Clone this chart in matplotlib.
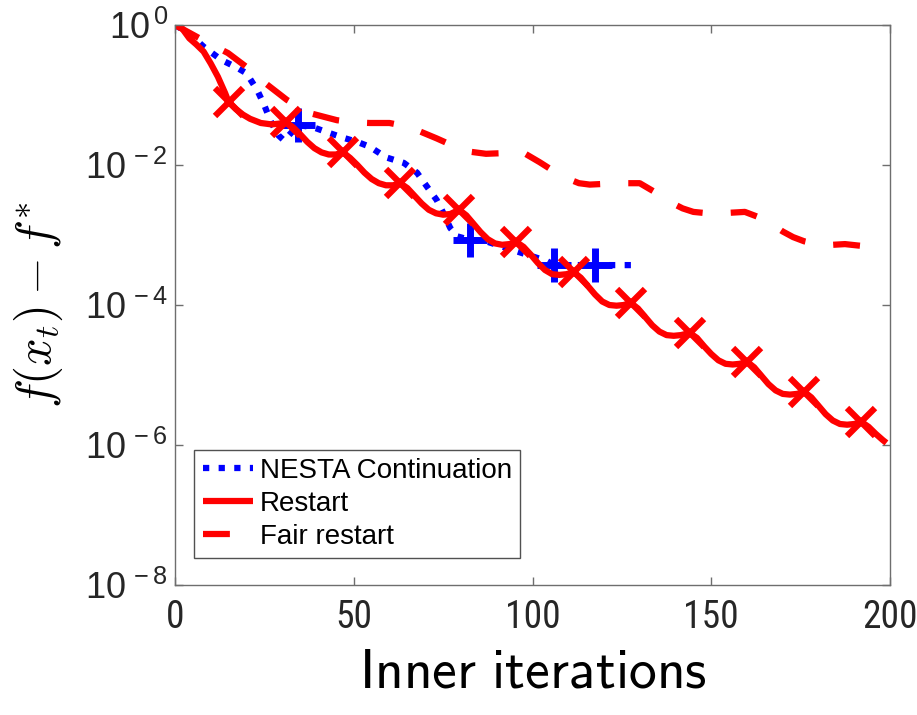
import numpy as np
import matplotlib
matplotlib.use("Agg")
import matplotlib.pyplot as plt
from matplotlib import font_manager

plt.rcParams['font.family'] = ['Liberation Sans', 'DejaVu Sans']
plt.rcParams['mathtext.fontset'] = 'cm'

# ---------------- data (log10 of f(x_t) - f*) ----------------
restart_x = [0, 2, 4, 6, 8, 10, 12, 14, 15, 17, 19, 21, 24, 27, 29, 31,
             33, 35, 37, 39, 41, 43, 45, 47,
             49, 51, 53, 55, 57, 59, 61, 63,
             65, 67, 69, 71, 73, 75, 77, 79.5,
             81.5, 83.5, 85.5, 87.5, 89.5, 91.5, 93.5, 95.5,
             97.5, 99.5, 101.5, 103.5, 105.5, 107.5, 109.5, 111.5,
             113.5, 115.5, 117.5, 119.5, 121.5, 123.5, 125.5, 127.5,
             129.5, 131.5, 133.5, 135.5, 137.5, 139.5, 141.5, 144,
             146, 148, 150, 152, 154, 156, 158, 160,
             162, 164, 166, 168, 170, 172, 174, 176,
             178, 180, 182, 184, 186, 188, 190, 192,
             194, 196, 198, 199]
restart_log = [0, -0.05, -0.19, -0.28, -0.38, -0.55, -0.74, -0.97, -1.10, -1.20, -1.28, -1.34, -1.40, -1.42, -1.41, -1.39,
               -1.46, -1.56, -1.67, -1.76, -1.82, -1.85, -1.85, -1.82,
               -1.90, -2.00, -2.11, -2.20, -2.26, -2.29, -2.29, -2.26,
               -2.33, -2.44, -2.55, -2.64, -2.69, -2.71, -2.70, -2.64,
               -2.72, -2.84, -2.96, -3.06, -3.12, -3.14, -3.13, -3.10,
               -3.17, -3.28, -3.40, -3.50, -3.56, -3.57, -3.56, -3.53,
               -3.61, -3.73, -3.85, -3.95, -4.00, -4.01, -4.00, -3.97,
               -4.05, -4.17, -4.29, -4.38, -4.43, -4.44, -4.43, -4.40,
               -4.47, -4.59, -4.70, -4.79, -4.84, -4.85, -4.84, -4.81,
               -4.89, -5.01, -5.13, -5.22, -5.27, -5.28, -5.27, -5.24,
               -5.32, -5.44, -5.56, -5.65, -5.70, -5.71, -5.70, -5.67,
               -5.74, -5.84, -5.93, -5.97]
restart_mark_x = [15, 31, 47, 63, 79.5, 95.5, 111.5, 127.5, 144, 160, 176, 192]
restart_mark_log = [-1.10, -1.39, -1.82, -2.26, -2.64, -3.10, -3.53, -3.97, -4.40, -4.81, -5.24, -5.67]

nesta_x = [0, 4, 8, 13, 17, 20, 23, 25, 27, 29, 30.5, 34.5, 38.6, 43, 47, 51, 54.5, 59, 64,
           67.7, 70.5, 73.2, 75, 77, 79, 82.5, 87, 93, 99, 104, 106, 110, 117.5, 124, 129.5]
nesta_log = [0, -0.12, -0.31, -0.50, -0.60, -0.69, -0.93, -1.15, -1.40, -1.58, -1.65, -1.43, -1.46,
             -1.54, -1.61, -1.67, -1.74, -1.89, -1.97, -2.11, -2.31, -2.50, -2.68, -2.90, -3.02,
             -3.07, -3.09, -3.19, -3.29, -3.37, -3.43, -3.43, -3.43, -3.43, -3.43]
nesta_mark_x = [34.5, 82.5, 106, 117.5]
nesta_mark_log = [-1.43, -3.07, -3.43, -3.43]

fair_x = [0, 4, 9, 14.8, 20, 23, 26.5, 31.3, 37.8, 45.3, 50, 54.5, 60, 64, 68.5, 73.2, 78,
          82.5, 87, 92, 97, 102, 106, 109.6, 113, 116, 120, 124.5, 130, 134, 138.5, 142,
          145, 149, 152.4, 156, 159.4, 163, 166.4, 170, 172.9, 176, 180.4, 184, 187.4, 191,
          195.2, 197]
fair_log = [0, -0.11, -0.25, -0.40, -0.60, -0.74, -0.88, -1.07, -1.26, -1.36, -1.39, -1.40,
            -1.40, -1.44, -1.52, -1.62, -1.73, -1.81, -1.84, -1.83, -1.81, -1.96, -2.09, -2.19,
            -2.26, -2.28, -2.27, -2.26, -2.26, -2.38, -2.53, -2.62, -2.67, -2.69, -2.69, -2.68,
            -2.67, -2.74, -2.83, -2.95, -3.03, -3.09, -3.14, -3.14, -3.13, -3.15, -3.17, -3.12]

xticks = [0, 50, 100, 150, 200]
yticks_exp = [0, -2, -4, -6, -8]

# pick a narrow font for the x tick labels if one is installed
_names = {f.name for f in font_manager.fontManager.ttflist}
_narrow = [n for n in ['Liberation Sans Narrow', 'Roboto Condensed', 'DejaVu Sans Condensed']
           if n in _names]
xfam = (_narrow[:1] + ['Liberation Sans']) if _narrow else ['Liberation Sans']
xsize = 27 if _narrow else 23

# ---------------- figure ----------------
fig = plt.figure(figsize=(9.17, 7.15), dpi=100)
ax = fig.add_axes([175/917, 1-585/715, (890-175)/917, (585-25)/715])

blue = '#0000ff'
red = '#ff0000'

ln1, = ax.plot(nesta_x, 10.0**np.array(nesta_log), color=blue, lw=4.5,
               dashes=(1.0, 1.5), dash_capstyle='butt', label='NESTA Continuation')
ax.plot(nesta_mark_x, 10.0**np.array(nesta_mark_log), ls='none', marker='+',
        ms=24, mew=5, color=blue)

ln2, = ax.plot(restart_x, 10.0**np.array(restart_log), color=red, lw=4.5,
               solid_capstyle='butt', label='Restart')
ax.plot(restart_mark_x, 10.0**np.array(restart_mark_log), ls='none', marker='x',
        ms=20, mew=4.5, color=red)

ln3, = ax.plot(fair_x, 10.0**np.array(fair_log), color=red, lw=4.5,
               dashes=(4.3, 4.5), dash_capstyle='butt', label='Fair restart')

ax.set_yscale('log')
ax.set_xlim(0, 200)
ax.set_ylim(1e-8, 1e0)
ax.set_xticks(xticks)
ax.set_xticklabels([str(t) for t in xticks])
ax.set_yticks([10.0**e for e in yticks_exp])
ax.set_yticklabels([r'$\mathregular{10^{\,%d}}$' % e for e in yticks_exp])
ax.yaxis.set_minor_locator(matplotlib.ticker.NullLocator())

for sp in ax.spines.values():
    sp.set_color('#6e6e6e')
    sp.set_linewidth(1.0)
ax.tick_params(which='both', direction='in', top=True, right=True, length=6,
               width=1.0, color='#6e6e6e', labelcolor='#262626')
ax.tick_params(axis='y', labelsize=26, pad=5)
ax.tick_params(axis='x', labelsize=xsize, pad=10)
for lab in ax.get_xticklabels():
    lab.set_family(xfam)
    lab.set_fontsize(xsize)

ax.set_xlabel(r'$\mathsf{Inner\ iterations}$', fontsize=40, labelpad=8, color='black')
ax.set_ylabel(r'$f(x_t)-f^{*}$', fontsize=35, labelpad=14, color='black')

leg = ax.legend(handles=[ln1, ln2, ln3], loc='lower left',
                bbox_to_anchor=(0.027, 0.048), borderaxespad=0, fontsize=20,
                handlelength=1.8, handletextpad=0.25, labelspacing=0.25,
                borderpad=0.3, fancybox=False, frameon=True)
leg.get_frame().set_edgecolor('#262626')
leg.get_frame().set_linewidth(1.0)

fig.savefig('out.png', dpi=100)
